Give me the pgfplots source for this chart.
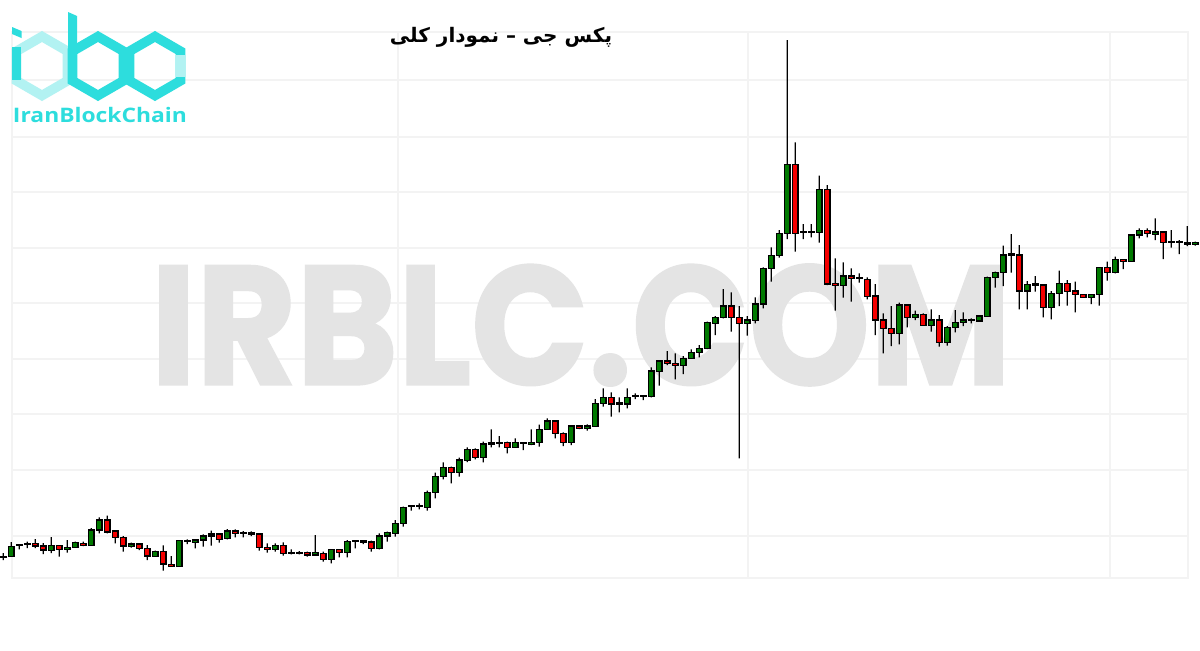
\documentclass[border=0pt]{standalone}
\usepackage{pgfplots}
\pgfplotsset{compat=1.18}
\usepackage{pgfplotstable}
\usepackage{fontspec}
\usepackage{graphicx}
\TeXXeTstate=1
\newfontfamily\arabicfont[Script=Arabic]{DejaVu Sans}
\newfontfamily\wmfont[BoldFeatures={FakeBold=1.5}]{Poppins}
\newfontfamily\logofont{Open Sans}
\definecolor{cgreen}{RGB}{0,122,0}
\definecolor{cred}{RGB}{245,0,0}
\definecolor{cyanD}{RGB}{45,221,221}
\definecolor{cyanL}{RGB}{178,242,242}
\definecolor{gridc}{RGB}{243,243,243}
\definecolor{wmc}{RGB}{228,228,228}

\pgfplotstableread{
i o h l c
1 92.5 97 90 93.5
2 93.3 108 93.3 103.3
3 104.3 105 100.7 104.3
4 105.7 108.3 102 105.7
5 106.3 111 102 104
6 104 107 96 100
7 99.3 113 97 104.7
8 104.7 104.7 93.3 100.7
9 100.7 110 97.3 102.7
10 102.7 108.3 102.7 107.3
11 106.7 108.3 104 104.7
12 104.7 122 104.7 120
13 120 132.7 116.7 130
14 130 134.3 116.7 118
15 119 120 106.7 112.7
16 112.7 114 98.3 104
17 103.3 107.3 102.3 106
18 106 106.7 100 101.3
19 101.3 105 90 94
20 93.3 99.3 93.3 98.7
21 98.7 104.7 79.3 86
22 85.3 94 83.3 83.3
23 83.3 110 83.3 109.3
24 108.3 110.7 106 108.3
25 107.3 110.7 101.7 110
26 110 115.7 103.3 114
27 114 119.3 104.3 116
28 116 116 107.3 110.7
29 111.3 121 110.7 119
30 119 120.7 112.7 116.7
31 116.7 119 112.7 116.7
32 116 118.7 114 116
33 116 116 99.3 102.7
34 102.7 106.7 97.3 100.7
35 100.7 106.7 98.3 104.7
36 104.7 107.7 94.3 96.7
37 96.7 100.7 95.7 96.7
38 96.7 99 95.7 96.7
39 97.3 98.3 93.3 95
40 95 115 95 97.3
41 96.7 98.3 88.3 90.7
42 90.7 100.7 86.7 100.7
43 100.7 100.7 92.7 97.3
44 97.3 110 92.7 108.7
45 108.7 110 101.7 108.7
46 108 110 106 108
47 108 109.3 98.3 101.7
48 101.7 116.7 100.7 114
49 114 118.3 108.3 117.3
50 116.7 130 113.3 126.7
51 126.7 143.3 123.3 142.7
52 143.3 145 139.3 143.3
53 143.3 146.7 140.7 143.3
54 142.7 159.3 139.3 157.7
55 157.7 177.3 151.7 173.3
56 173.3 187.7 170.7 182.7
57 182.7 183.3 166.7 177.3
58 177.3 192.3 173.3 190
59 189.3 202.7 188 200.7
60 200.7 201.7 190.7 192.7
61 192.7 208.3 187.7 206
62 206 220.7 202.7 206
63 206.7 214 202.7 206.7
64 207.3 208.3 196.7 202.7
65 202.7 211.7 202.7 207.3
66 206.7 208 200 206.7
67 205.7 220.7 205 207.7
68 207.3 225.3 203.3 220.7
69 220.7 231.7 220.7 229
70 229 229 211.7 216.7
71 216.7 217.7 204 207.3
72 207.3 225 205 224
73 224 225 221 221.7
74 221.3 225.7 219.3 224
75 223.3 251 223.3 246.7
76 246.7 261.7 243.3 252.7
77 252.7 257.7 233.3 246
78 246 252.7 237.7 246
79 246 261.7 241.7 252.7
80 253.3 256.7 251 253.3
81 253.3 255 250 253.3
82 253.3 282.7 252.7 279
83 278.3 290 264.3 289
84 289 299 285 286.7
85 286.7 296.7 270.7 284.7
86 284.7 294 276 291.7
87 291.7 300.7 291.7 297.7
88 297.7 305 292.7 301.7
89 301.7 328.3 301 327.3
90 326.7 334 315 332.7
91 332.7 361 331.7 344
92 344 357.7 318.3 332.7
93 332.7 344 191.7 326.7
94 326.7 334 314.3 330
95 329.3 352.7 326.7 346
96 346 382.7 341.7 381.7
97 381.7 402.7 368.3 394.7
98 394.7 420 392.3 416.7
99 416.7 610 411 485.7
100 485.7 507.7 398.3 416.7
101 417.3 426 411 417.3
102 417.7 426 412.7 417.7
103 417.7 474.3 407.3 460.7
104 460.7 465 365 366
105 366.7 391.7 339.3 364.3
106 364.3 387.7 352.3 374
107 374 381.7 348.3 371.7
108 371.3 376.7 367.3 371.3
109 370.7 372.7 350.7 353.3
110 354 366 315 330
111 330 336.7 296.7 321.7
112 321.7 344 304 316.7
113 316.7 347.3 305.7 345
114 345 345 322.7 332.3
115 332.3 339.3 330 335.7
116 335.7 336.7 324.3 324.3
117 324.3 340.7 318.3 330
118 330 335 303.3 307.7
119 307.7 324 304.3 322.7
120 322.7 340 317.7 327.7
121 327.7 337.7 324 330
122 329.3 331.7 326.7 329.3
123 329 334 328.3 334
124 333.3 373.3 333.3 372.7
125 372.7 378.3 362.3 377.7
126 377.7 404.3 364 395
127 395 416 377.3 395
128 395 405 340.7 359
129 359 369 340.7 365.7
130 365 374 358.3 365
131 365 365 332.7 342.7
132 342.7 359 330.7 356.7
133 356.7 379.3 344 366.7
134 366.7 370 344.3 358.7
135 359 368.3 337.7 355.7
136 355.7 355.7 352.3 352.3
137 352.3 355.7 346 355.7
138 355.7 382.7 344.3 382.7
139 382.7 388.3 369.3 377.7
140 377.7 393.3 376.7 390.7
141 390.7 390.7 381 388.3
142 388.3 415 388.3 415
143 415 421.7 411.7 419.3
144 419.3 421.7 412.7 416.7
145 415.7 431.7 410 418
146 418 419 391 407.3
147 407.3 420 402.3 407.3
148 407.3 410 396 407.3
149 407.7 424 404 406
150 405.7 408.3 404.3 407.7
}\candles

\pgfplotsset{candleaxis/.style={
  at={(0,0)}, anchor=south west, scale only axis,
  width=600pt, height=325pt,
  xmin=0.5875, xmax=150.5875, ymin=0, ymax=650,
  hide axis, ybar stacked}}

\begin{document}
\begin{tikzpicture}
\fill[white, use as bounding box] (0,0) rectangle (600pt,325pt);
\begin{scope}[x=0.5pt,y=-0.5pt,yshift=325pt]
  % faint frame and grid
  \foreach \gy in {80,137,192,248,303,359,414,470,536}
    \draw[gridc, line width=0.6pt] (12,\gy) -- (1188,\gy);
  \foreach \gx in {398,748,1110}
    \draw[gridc, line width=0.6pt] (\gx,32) -- (\gx,578);
  \draw[gridc, line width=0.8pt] (12,32) rectangle (1188,578);
  % watermark
  \node[wmc, inner sep=0pt] at (581,325) {\resizebox{430pt}{60pt}{\wmfont\bfseries IRBLC.COM}};
  % logo
  \draw[cyanL, line width=4.8pt, line join=miter]
    (42,36.5) -- (67.5,51.25) -- (67.5,80.75) -- (42,95.5) -- (16.5,80.75) -- (16.5,51.25) -- cycle;
  \draw[cyanD, line width=4.8pt] (16.5,47) -- (16.5,80);
  \fill[cyanD] (12,27) -- (21.5,31) -- (21.5,38) -- (12,34) -- cycle;
  \draw[cyanD, line width=4.8pt, line join=miter]
    (98,36.5) -- (123.5,51.25) -- (123.5,80.75) -- (98,95.5) -- (72.5,80.75) -- (72.5,51.25) -- cycle;
  \fill[cyanD] (68,12) -- (77,16) -- (77,52) -- (68,52) -- cycle;
  \draw[cyanD, line width=4.8pt, line join=miter]
    (155,36.5) -- (180.5,51.25) -- (180.5,80.75) -- (155,95.5) -- (129.5,80.75) -- (129.5,51.25) -- cycle;
  \draw[cyanL, line width=4.8pt] (180.5,55) -- (180.5,77);
  \node[cyanD, inner sep=0pt] at (100,115) {\resizebox{87pt}{7.6pt}{\logofont\bfseries IranBlockChain}};
  % title
  \node[inner sep=0pt] at (501,37) {\arabicfont\bfseries\fontsize{10pt}{12pt}\selectfont\beginR پکس جی – نمودار کلی\endR};
\end{scope}

% wicks
\begin{axis}[candleaxis, bar width=0.65pt]
  \addplot[draw=none, fill=none] table[x=i, y=l] \candles;
  \addplot[draw=none, fill=black] table[x=i, y expr={\thisrow{h}-\thisrow{l}}] \candles;
\end{axis}
% bodies
\begin{axis}[candleaxis, bar width=2.7pt]
  \addplot[draw=none, fill=none] table[x=i, y expr={min(\thisrow{o},\thisrow{c})}] \candles;
  \addplot[draw=black, fill=cgreen, line width=0.7pt] table[x=i, y expr={\thisrow{c}>=\thisrow{o} ? max(\thisrow{c}-\thisrow{o},1) : 0}] \candles;
  \addplot[draw=black, fill=cred, line width=0.7pt] table[x=i, y expr={\thisrow{o}>\thisrow{c} ? max(\thisrow{o}-\thisrow{c},1) : 0}] \candles;
\end{axis}
\end{tikzpicture}
\end{document}
